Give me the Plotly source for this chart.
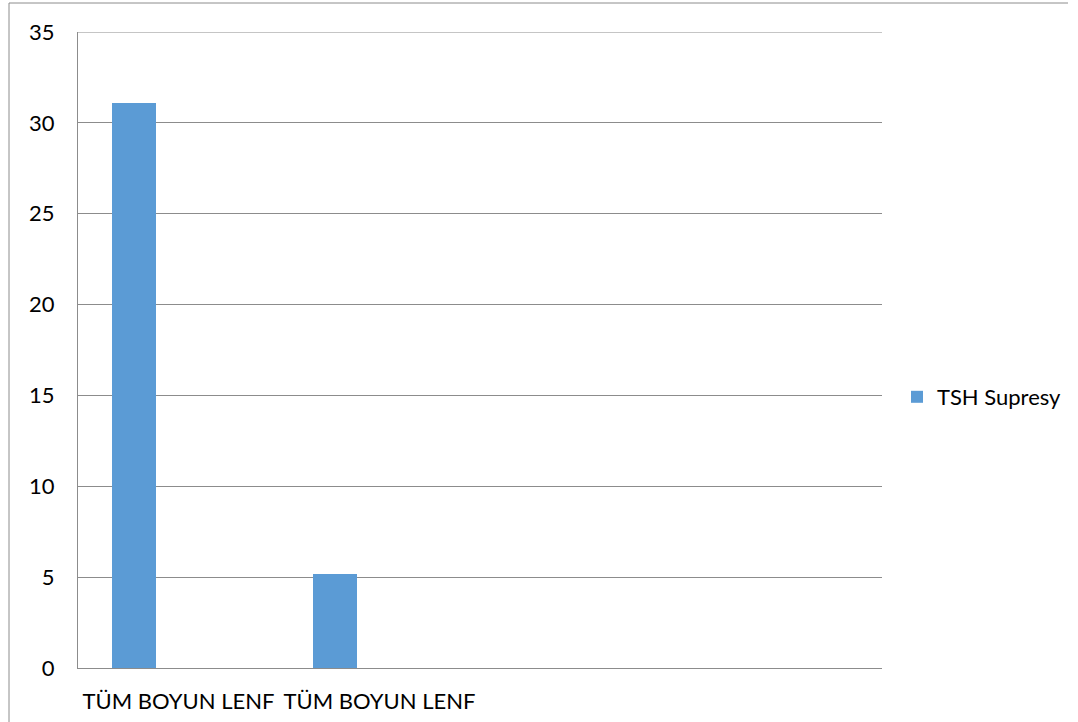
import plotly.graph_objects as go

# Chart data
categories = ["TÜM BOYUN LENF", "TÜM BOYUN LENF"]
category_slots = [0, 1]
series_name = "TSH Supresy"
series_values = [31.1, 5.2]
y_ticks = [0, 5, 10, 15, 20, 25, 30, 35]
y_max = 35

FONT = "Lato, 'Open Sans', sans-serif"
FS = 22
GRID = "#8c8c8c"
BAR = "#5b9bd5"

fig = go.Figure()
fig.add_trace(go.Bar(
    x=category_slots,
    y=series_values,
    name=series_name,
    marker=dict(color=BAR, line=dict(width=0)),
    width=0.222,
    offset=-0.333,
    showlegend=True,
))

# plot area: x 78..882, y 32..668 in a 1078x722 canvas
L, R, T, B = 78, 196, 32, 54
W, H = 1078, 722
pw, ph = W - L - R, H - T - B

def px_x(p):
    return (p - L) / pw

def px_y(p):
    return (H - B - p) / ph

frame = dict(color=GRID, width=1)

fig.update_layout(
    width=W, height=H,
    margin=dict(l=L, r=R, t=T, b=B, pad=0, autoexpand=False),
    paper_bgcolor="white",
    plot_bgcolor="white",
    font=dict(family=FONT, size=FS, color="#000000"),
    bargap=0,
    xaxis=dict(
        range=[-0.5, 3.5],
        tickmode="array",
        tickvals=category_slots,
        ticktext=categories,
        showgrid=False,
        zeroline=False,
        showline=True,
        linecolor=GRID,
        linewidth=1,
        ticks="",
        ticklabelstandoff=14,
        tickfont=dict(family=FONT, size=FS),
    ),
    yaxis=dict(
        range=[0, y_max],
        tickmode="array",
        tickvals=y_ticks,
        showgrid=True,
        gridcolor=GRID,
        gridwidth=1,
        zeroline=False,
        showline=True,
        linecolor=GRID,
        linewidth=1,
        ticks="",
        ticklabelstandoff=18,
        tickfont=dict(family=FONT, size=FS),
    ),
    legend=dict(
        x=px_x(897), y=px_y(397),
        xanchor="left", yanchor="middle",
        bgcolor="rgba(0,0,0,0)",
        font=dict(family=FONT, size=FS),
        itemwidth=30,
    ),
    shapes=[
        # outer chart frame: left and top edges
        dict(type="line", xref="paper", yref="paper",
             x0=px_x(9), x1=px_x(9), y0=px_y(740), y1=px_y(3),
             line=frame, layer="below"),
        dict(type="line", xref="paper", yref="paper",
             x0=px_x(9), x1=px_x(1068), y0=px_y(3), y1=px_y(3),
             line=frame, layer="below"),
        # top gridline at the axis maximum
        dict(type="line", xref="paper", yref="y",
             x0=0, x1=1, y0=y_max, y1=y_max,
             line=frame, layer="below"),
    ],
)

fig.write_html("out.html")
